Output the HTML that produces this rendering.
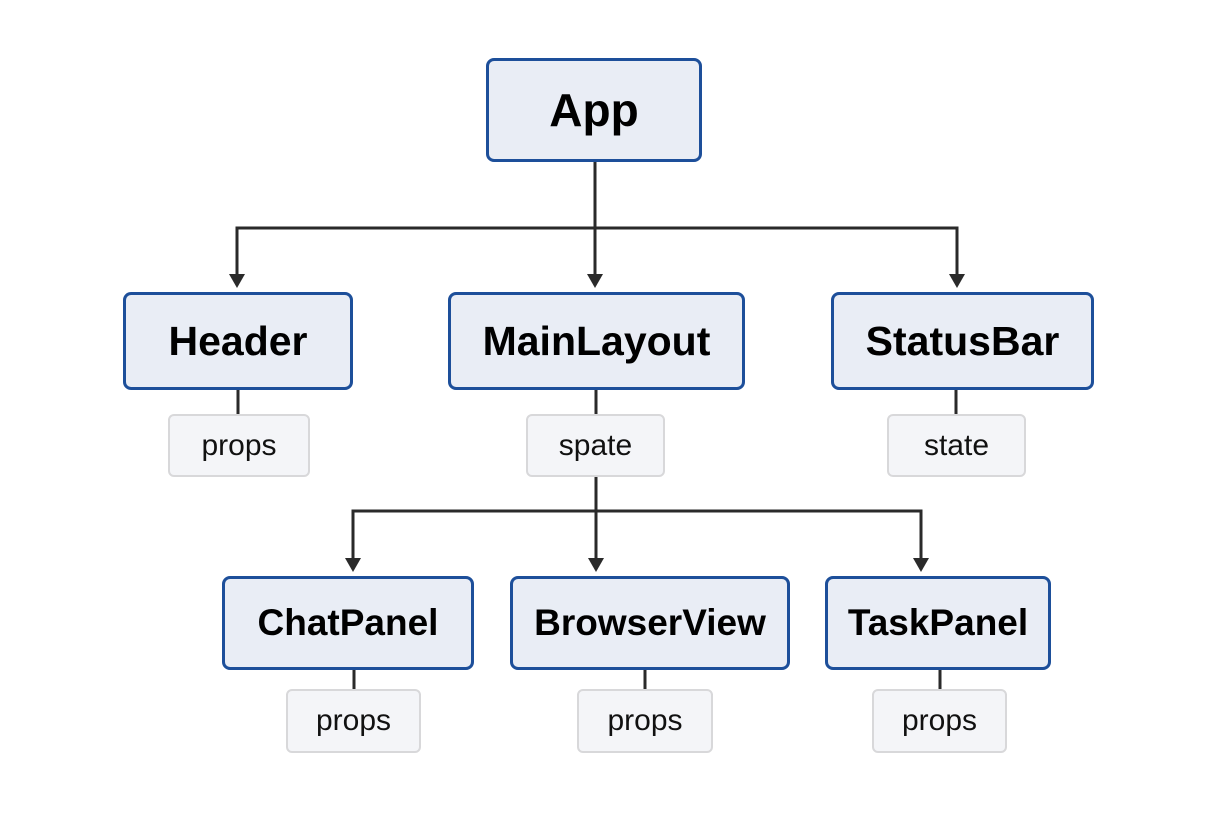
<!DOCTYPE html>
<html><head><style>
body{margin:0;width:1224px;height:816px;background:#fff;position:relative;overflow:hidden;font-family:"Liberation Sans",sans-serif}
.n{position:absolute;box-sizing:border-box;background:#e9edf5;border:3px solid #1d4f9a;border-radius:8px;display:flex;align-items:center;justify-content:center;color:#000;font-size:41px;font-weight:bold;}
.p{position:absolute;box-sizing:border-box;background:#f4f5f8;border:2.5px solid #d8d8da;border-radius:6px;display:flex;align-items:center;justify-content:center;color:#111;font-size:30px;}
svg{position:absolute;left:0;top:0}
</style></head><body>
<svg width="1224" height="816">
<g stroke="#2a2a2a" stroke-width="3" fill="none">
<path d="M595 162V276M237 276V228H957V276"/>
<path d="M238 390V414M596 390V414M956 390V414"/>
<path d="M596 477V560M353 560V511H921V560"/>
<path d="M354 670V689M645 670V689M940 670V689"/>
</g>
<g fill="#2a2a2a">
<path d="M229 274h16l-8 14z"/><path d="M587 274h16l-8 14z"/><path d="M949 274h16l-8 14z"/>
<path d="M345 558h16l-8 14z"/><path d="M588 558h16l-8 14z"/><path d="M913 558h16l-8 14z"/>
</g>
</svg>
<div class="n" style="left:486px;top:58px;width:216px;height:104px;font-size:46px">App</div>
<div class="n" style="left:123px;top:292px;width:230px;height:98px">Header</div>
<div class="n" style="left:448px;top:292px;width:297px;height:98px">MainLayout</div>
<div class="n" style="left:831px;top:292px;width:263px;height:98px">StatusBar</div>
<div class="p" style="left:168px;top:414px;width:142px;height:63px">props</div>
<div class="p" style="left:526px;top:414px;width:139px;height:63px">spate</div>
<div class="p" style="left:887px;top:414px;width:139px;height:63px">state</div>
<div class="n" style="left:222px;top:576px;width:252px;height:94px;font-size:37px">ChatPanel</div>
<div class="n" style="left:510px;top:576px;width:280px;height:94px;font-size:37px">BrowserView</div>
<div class="n" style="left:825px;top:576px;width:226px;height:94px;font-size:37px">TaskPanel</div>
<div class="p" style="left:286px;top:689px;width:135px;height:64px">props</div>
<div class="p" style="left:577px;top:689px;width:136px;height:64px">props</div>
<div class="p" style="left:872px;top:689px;width:135px;height:64px">props</div>
</body></html>
